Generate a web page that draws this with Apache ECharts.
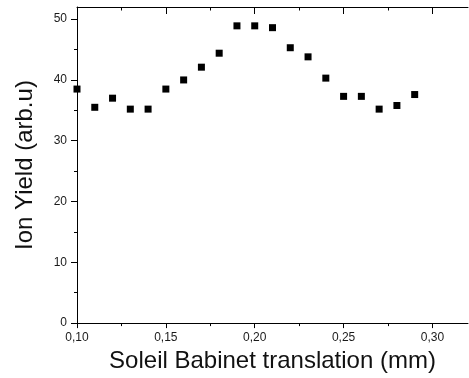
<!DOCTYPE html>
<html>
<head>
<meta charset="utf-8">
<script src="https://cdn.jsdelivr.net/npm/echarts@6/dist/echarts.min.js"></script>
<style>
  html, body { margin: 0; padding: 0; background: #fff; }
  #chart { width: 469px; height: 378px; }
</style>
</head>
<body>
<div id="chart"></div>
<script>
// Translation positions (mm) and measured ion yield (arb. units)
const translation = [0.10, 0.11, 0.12, 0.13, 0.14, 0.15, 0.16, 0.17, 0.18, 0.19,
                     0.20, 0.21, 0.22, 0.23, 0.24, 0.25, 0.26, 0.27, 0.28, 0.29];
const ionYield = [38.5, 35.5, 37.0, 35.2, 35.2, 38.5, 40.0, 42.1, 44.4, 48.9,
                  48.9, 48.6, 45.3, 43.8, 40.3, 37.3, 37.3, 35.2, 35.8, 37.6];

// Axis ticks
const xMajorTicks = [0.10, 0.15, 0.20, 0.25, 0.30];
const xMinorTicks = [0.125, 0.175, 0.225, 0.275];
const yMajorTicks = [0, 10, 20, 30, 40, 50];
const yMinorTicks = [5, 15, 25, 35, 45];

const X_MIN = 0.10, X_MAX = 0.32, Y_MIN = 0, Y_MAX = 52;
const FONT = 'Liberation Sans, Arial, sans-serif';
const lineStyle = { color: '#000', width: 1 };

function xAxisBase(position, ticks, len, inside, withLine, withLabels) {
  return {
    type: 'value', position: position, min: X_MIN, max: X_MAX, interval: 0.05,
    axisLine: { show: withLine, onZero: false, lineStyle: lineStyle },
    axisTick: { show: true, inside: inside, length: len, customValues: ticks, lineStyle: lineStyle },
    axisLabel: withLabels ? {
      show: true, customValues: ticks, margin: 9,
      fontFamily: FONT, fontSize: 12, color: '#1a1a1a',
      formatter: v => Number(v).toFixed(2).replace('.', ',')
    } : { show: false },
    splitLine: { show: false }
  };
}

function yAxisBase(ticks, len, withLine, withLabels) {
  return {
    type: 'value', position: 'left', min: Y_MIN, max: Y_MAX, interval: 10,
    axisLine: { show: withLine, onZero: false, lineStyle: lineStyle },
    axisTick: { show: true, inside: false, length: len, customValues: ticks, lineStyle: lineStyle },
    axisLabel: withLabels ? {
      show: true, customValues: ticks, margin: 10,
      fontFamily: FONT, fontSize: 12, color: '#1a1a1a'
    } : { show: false },
    splitLine: { show: false }
  };
}

const xMain = xAxisBase('bottom', xMajorTicks, 5, false, true, true);
xMain.name = 'Soleil Babinet translation (mm)';
xMain.nameLocation = 'middle';
xMain.nameGap = 23;
xMain.nameTextStyle = { fontFamily: FONT, fontSize: 24, color: '#111' };

const yMain = yAxisBase(yMajorTicks, 6, true, true);
yMain.name = 'Ion Yield (arb.u)';
yMain.nameLocation = 'middle';
yMain.nameGap = 40;
yMain.nameTextStyle = { fontFamily: FONT, fontSize: 24, color: '#111' };

const chart = echarts.init(document.getElementById('chart'), null, { renderer: 'canvas' });
chart.setOption({
  animation: false,
  backgroundColor: '#fff',
  grid: { left: 77, right: 1, top: 7, bottom: 54, containLabel: false },
  xAxis: [
    xMain,
    xAxisBase('bottom', xMinorTicks, 3, false, false, false),
    xAxisBase('top', xMajorTicks, 7, true, true, false),
    xAxisBase('top', xMinorTicks, 3.5, true, false, false)
  ],
  yAxis: [
    yMain,
    yAxisBase(yMinorTicks, 3, false, false)
  ],
  series: [{
    type: 'scatter',
    xAxisIndex: 0,
    yAxisIndex: 0,
    symbol: 'rect',
    symbolSize: 7,
    itemStyle: { color: '#000', opacity: 1 },
    data: translation.map((x, i) => [x, ionYield[i]])
  }]
});
</script>
</body>
</html>
